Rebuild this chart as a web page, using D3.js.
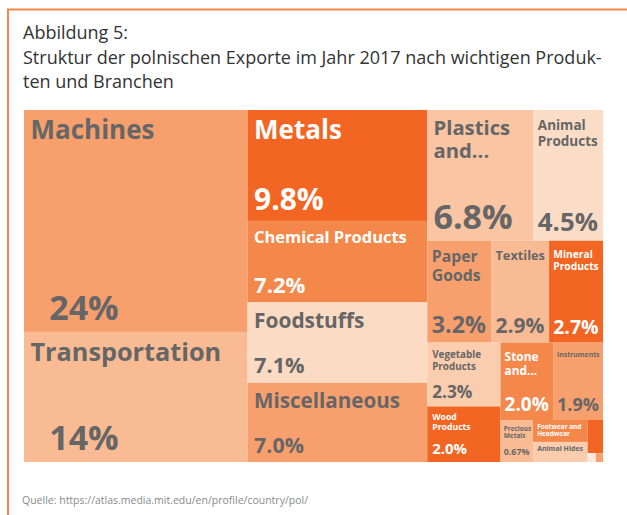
<!DOCTYPE html>
<html>
<head>
<meta charset="utf-8">
<script src="https://cdn.jsdelivr.net/npm/d3@7"></script>
<style>
  body { margin: 0; background: #fff; }
  svg text { font-family: "Open Sans", sans-serif; }
</style>
</head>
<body>
<div id="chart"></div>
<script>

var svgWidth = 627;
var svgHeight = 515;

// treemap box inside the frame
var margin = { top: 110, left: 24 };
var width = 579;
var height = 352;

// product sections, share of polish exports 2017 (%)
var products = ["Machines", "Transportation", "Metals", "Chemical Products", "Foodstuffs",
  "Miscellaneous", "Plastics and...", "Animal Products", "Paper Goods", "Textiles",
  "Mineral Products", "Vegetable Products", "Wood Products", "Stone and...", "Instruments",
  "Precious Metals", "Footwear and Headwear", "Animal Hides", "Animal and Vegetable Bi-Products",
  "Weapons", "Arts and Antiques"];
var shares = [24.4, 14.3, 9.8, 7.2, 7.1,
  7.0, 6.8, 4.5, 3.2, 2.9,
  2.7, 2.3, 2.0, 2.0, 1.9,
  0.67, 0.59, 0.54, 0.25,
  0.036, 0.031];

var titleLines = ["Abbildung 5:",
  "Struktur der polnischen Exporte im Jahr 2017 nach wichtigen Produk-",
  "ten und Branchen"];
var sourceText = "Quelle: https://atlas.media.mit.edu/en/profile/country/pol/";

// fill colours per section
var fills = {
  "Machines": "#f7a06e",
  "Transportation": "#f9bb94",
  "Metals": "#f26522",
  "Chemical Products": "#f4874a",
  "Foodstuffs": "#fbdbc4",
  "Miscellaneous": "#f7a06e",
  "Plastics and...": "#f9c5a3",
  "Animal Products": "#fbdcc6",
  "Paper Goods": "#f7a06e",
  "Textiles": "#f9bb94",
  "Mineral Products": "#f26522",
  "Vegetable Products": "#facdae",
  "Wood Products": "#f26522",
  "Stone and...": "#f4874a",
  "Instruments": "#f7a06e",
  "Precious Metals": "#f9bb94",
  "Footwear and Headwear": "#f4874a",
  "Animal Hides": "#facdae",
  "Animal and Vegetable Bi-Products": "#f26522",
  "Weapons": "#fde9db",
  "Arts and Antiques": "#f7a06e"
};
var frameColor = "#f4874a";

var svg = d3.select("#chart")
  .append("svg")
  .attr("width", svgWidth)
  .attr("height", svgHeight);

// frame: top and left orange rule
svg.append("line")
  .attr("x1", 7).attr("x2", svgWidth)
  .attr("y1", 9.5).attr("y2", 9.5)
  .attr("stroke", frameColor).attr("stroke-width", 2);
svg.append("line")
  .attr("x1", 8).attr("x2", 8)
  .attr("y1", 9).attr("y2", svgHeight)
  .attr("stroke", frameColor).attr("stroke-width", 2);

// title, one text with a tspan per line
svg.append("text")
  .attr("x", 23)
  .attr("y", 39)
  .attr("font-size", "18px")
  .attr("fill", "#333")
  .selectAll("tspan")
  .data(titleLines)
  .enter()
  .append("tspan")
  .attr("x", 23)
  .attr("dy", (d, i) => i ? 24.5 : 0)
  .text(d => d);

svg.append("text")
  .attr("x", 22)
  .attr("y", 504)
  .attr("font-size", "10.5px")
  .attr("fill", "#8a8a8a")
  .text(sourceText);

// treemap layout
var root = d3.hierarchy({ children: products.map((p, i) => ({ name: p, share: shares[i] })) })
  .sum(d => d.share)
  .sort((a, b) => b.value - a.value);

d3.treemap()
  .tile(d3.treemapSquarify.ratio(1.52))
  .size([width, height])(root);

var chartGroup = svg.append("g")
  .attr("transform", `translate(${margin.left}, ${margin.top})`);

var cells = chartGroup.selectAll("g.cell")
  .data(root.leaves())
  .enter()
  .append("g")
  .classed("cell", true)
  .attr("transform", d => `translate(${d.x0}, ${d.y0})`);

cells.append("rect")
  .attr("width", d => d.x1 - d.x0)
  .attr("height", d => d.y1 - d.y0)
  .attr("fill", d => fills[d.data.name]);

// helpers for label fitting
var probe = svg.append("text").attr("font-weight", "bold").attr("visibility", "hidden");
function textWidth(str, size) {
  probe.attr("font-size", size + "px").text(str);
  return probe.node().getComputedTextLength();
}
function wrap(str, maxW, size) {
  var words = str.split(" "), lines = [], line = "";
  for (var i = 0; i < words.length; i++) {
    if (textWidth(words[i], size) > maxW) return null;
    var test = line ? line + " " + words[i] : words[i];
    if (textWidth(test, size) <= maxW) line = test;
    else { lines.push(line); line = words[i]; }
  }
  lines.push(line);
  return lines;
}
function fitName(str, maxW, maxH, maxSize) {
  for (var s = maxSize; s >= 4; s -= 0.25) {
    var lines = wrap(str, maxW, s);
    if (lines && lines.length * s * 1.15 <= maxH) return { size: s, lines: lines };
  }
  return null;
}
function pctText(v) {
  if (v >= 10) return d3.format(".0f")(v) + "%";
  if (v >= 1) return d3.format(".1f")(v) + "%";
  return d3.format(".2f")(v) + "%";
}
function textColor(fill) {
  return d3.hsl(fill).l < 0.66 ? "#ffffff" : "#666666";
}

cells.each(function (d) {
  var w = d.x1 - d.x0, h = d.y1 - d.y0;
  if (w < 20 || h < 12) return;
  var g = d3.select(this);
  var pad = Math.min(6.5, 2 + w * 0.04);
  var color = textColor(fills[d.data.name]);
  var showPct = h >= 30 && w >= 25;

  var pSize = 0;
  if (showPct) {
    var label = pctText(d.data.share);
    pSize = Math.min(34, h * 0.27, w * 0.38);
    while (textWidth(label, pSize) > w - 2 * pad && pSize > 4) pSize -= 0.25;
    var dx = d.data.share >= 10 ? pSize * 0.55 : 0;
    g.append("text")
      .attr("x", pad + dx)
      .attr("y", h - (5 + pSize * 0.2))
      .attr("font-size", pSize + "px")
      .attr("font-weight", "bold")
      .attr("fill", color)
      .text(label);
  }

  var nameBox = showPct ? h * 0.36 : h * 0.7;
  var fit = fitName(d.data.name, w * 0.86, nameBox, Math.min(26, h * 0.26 + (showPct ? 0 : 4)));
  if (!fit) return;
  var top = Math.min(10, 2 + h * 0.1);
  g.append("text")
    .attr("x", pad)
    .attr("y", top + fit.size * 0.74)
    .attr("font-size", fit.size + "px")
    .attr("font-weight", "bold")
    .attr("fill", color)
    .selectAll("tspan")
    .data(fit.lines)
    .enter()
    .append("tspan")
    .attr("x", pad)
    .attr("dy", (t, i) => i ? fit.size * 1.15 : 0)
    .text(t => t);
});

probe.remove();

</script>
</body>
</html>
